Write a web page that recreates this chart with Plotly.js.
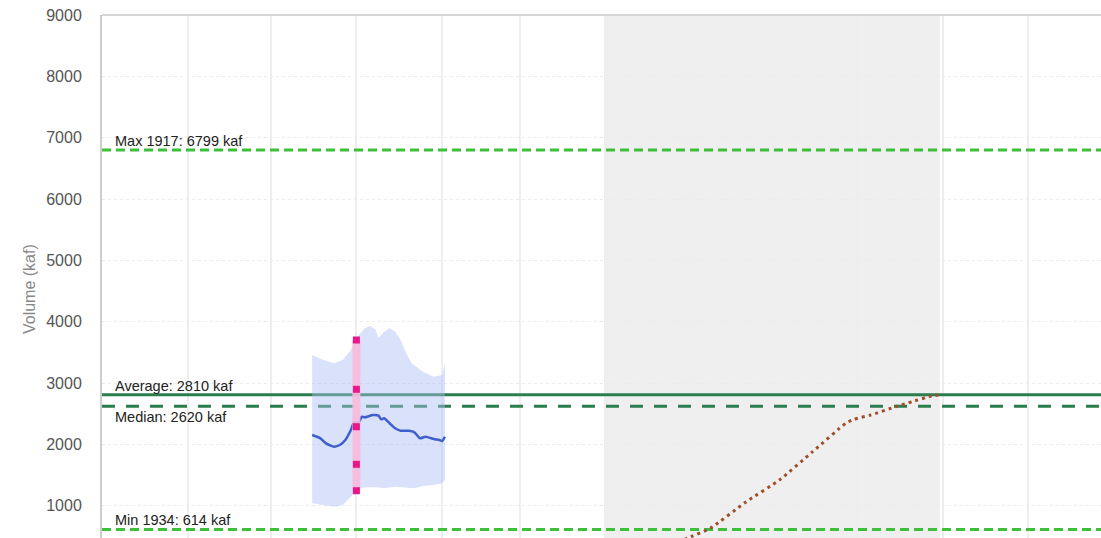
<!DOCTYPE html>
<html>
<head>
<meta charset="utf-8">
<script src="https://cdn.plot.ly/plotly-3.0.1.min.js"></script>
<style>
  html, body { margin: 0; padding: 0; background: #fff; overflow: hidden; }
  #chart { width: 1101px; height: 538px; }
</style>
</head>
<body>
<div id="chart"></div>
<script>
// Water-year window on the date axis
const yearStart = '2022-10-01';
const yearEnd = '2023-09-30';
const viewEnd = '2023-09-27 07:00';
const runoffSeason = ['2023-04-01', '2023-07-31'];

// Historical statistics (kaf)
const maxYear = 1917, maxValue = 6799;
const minYear = 1934, minValue = 614;
const averageValue = 2810;
const medianValue = 2620;

// Forecast spread, upper and lower edges (kaf)
const upperDates = ['2022-12-16','2022-12-20','2022-12-24','2022-12-27','2022-12-30','2023-01-01',
  '2023-01-04','2023-01-06','2023-01-08','2023-01-09','2023-01-11','2023-01-13','2023-01-15',
  '2023-01-17','2023-01-19','2023-01-21','2023-01-25','2023-01-29','2023-02-01','2023-02-02'];
const upperValues = [3457,3376,3322,3376,3539,3730,3893,3930,3865,3730,3837,3893,3837,
  3702,3485,3322,3185,3104,3131,3322];
const lowerDates = ['2022-12-16','2022-12-20','2022-12-24','2022-12-27','2022-12-30','2023-01-01',
  '2023-01-04','2023-01-08','2023-01-11','2023-01-15','2023-01-18','2023-01-22','2023-01-25',
  '2023-01-29','2023-02-01','2023-02-02'];
const lowerValues = [1039,1012,984,1012,1147,1256,1300,1300,1284,1311,1300,1284,1322,1338,1366,1420];

// Daily forecast volume (kaf)
const forecastDates = ['2022-12-16','2022-12-19','2022-12-21','2022-12-24','2022-12-26','2022-12-28',
  '2022-12-30','2022-12-31','2023-01-02','2023-01-03','2023-01-04','2023-01-07','2023-01-09',
  '2023-01-10','2023-01-11','2023-01-13','2023-01-15','2023-01-17','2023-01-20','2023-01-22',
  '2023-01-24','2023-01-26','2023-01-29','2023-01-31','2023-02-01','2023-02-02'];
const forecastValues = [2153,2099,2017,1963,1990,2071,2234,2344,2370,2452,2441,2479,2468,
  2408,2425,2344,2262,2223,2223,2197,2099,2125,2088,2071,2055,2125];

// January 1 forecast percentiles (kaf)
const janDate = '2023-01-01';
const janPercentiles = [1245, 1675, 2288, 2898, 3702];

// Cumulative April-July volume (kaf)
const cumulativeDates = ['2023-04-01','2023-04-16','2023-05-02','2023-05-09','2023-05-22',
  '2023-06-03','2023-06-15','2023-06-27','2023-06-30','2023-07-06','2023-07-15','2023-07-21',
  '2023-07-28','2023-07-31'];
const cumulativeValues = [0,200,495,632,1066,1420,1881,2344,2410,2479,2614,2696,2790,2810];

const darkGreen = '#2b7d4e';
const brightGreen = '#3cc03c';

function flatLine(value, color, dash) {
  return {
    type: 'scatter', mode: 'lines', hoverinfo: 'skip',
    x: [yearStart, yearEnd], y: [value, value],
    line: { color: color, width: 3, dash: dash }
  };
}

const traces = [
  flatLine(maxValue, brightGreen, '9px,5px'),
  flatLine(minValue, brightGreen, '9px,5px'),
  flatLine(averageValue, darkGreen, 'solid'),
  flatLine(medianValue, darkGreen, '13px,11px'),
  {
    type: 'scatter', mode: 'lines', hoverinfo: 'skip',
    x: upperDates.concat(lowerDates.slice().reverse()),
    y: upperValues.concat(lowerValues.slice().reverse()),
    fill: 'toself', fillcolor: 'rgba(170,190,245,0.45)',
    line: { width: 0 }
  },
  {
    type: 'scatter', mode: 'lines', hoverinfo: 'skip',
    x: forecastDates, y: forecastValues,
    line: { color: '#3f5fcc', width: 2.5, shape: 'spline', smoothing: 0.6 }
  },
  {
    type: 'scatter', mode: 'lines+markers', hoverinfo: 'skip',
    x: janPercentiles.map(() => janDate), y: janPercentiles,
    line: { color: 'rgba(248,186,218,0.9)', width: 8 },
    marker: { symbol: 'square', size: 7, color: '#e8188b' }
  },
  {
    type: 'scatter', mode: 'lines', hoverinfo: 'skip',
    x: cumulativeDates, y: cumulativeValues,
    line: { color: '#9e4f2c', width: 3, dash: '3px,4px', shape: 'spline', smoothing: 0.5 }
  }
];

function statLabel(text, value, shift) {
  return {
    xref: 'paper', x: 0, xanchor: 'left', xshift: 11,
    yref: 'y', y: value, yanchor: 'middle', yshift: shift,
    text: text, showarrow: false,
    font: { family: 'Liberation Sans, Arial, sans-serif', size: 14.5, color: '#222' }
  };
}

const layout = {
  width: 1101, height: 538,
  margin: { l: 102, r: 0, t: 15, b: 0 },
  paper_bgcolor: '#fff', plot_bgcolor: '#fff',
  showlegend: false, hovermode: false,
  font: { family: 'Liberation Sans, Arial, sans-serif' },
  xaxis: {
    type: 'date', range: [yearStart, viewEnd],
    tick0: yearStart, dtick: 'M1',
    showticklabels: false, ticks: '',
    showgrid: true, gridcolor: '#eeeeee', gridwidth: 2,
    zeroline: false, showline: false
  },
  yaxis: {
    range: [474, 9000], tick0: 0, dtick: 1000,
    ticks: 'outside', ticklen: 15, tickcolor: 'rgba(0,0,0,0)',
    tickfont: { size: 16, color: '#555' },
    showgrid: true, gridcolor: '#ebebeb', gridwidth: 1, griddash: 'dot',
    zeroline: false,
    showline: true, linecolor: '#cdcdcd', linewidth: 2
  },
  shapes: [
    {
      type: 'rect', layer: 'below',
      xref: 'x', x0: runoffSeason[0], x1: runoffSeason[1],
      yref: 'paper', y0: 0, y1: 1,
      fillcolor: '#efefef', line: { width: 0 }
    },
    {
      type: 'line', layer: 'above',
      xref: 'paper', x0: 0, x1: 1, yref: 'paper', y0: 1, y1: 1,
      line: { color: '#d6d6d6', width: 2 }
    }
  ],
  annotations: [
    statLabel('Max ' + maxYear + ': ' + maxValue + ' kaf', maxValue, 9),
    statLabel('Average: ' + averageValue + ' kaf', averageValue, 9),
    statLabel('Median: ' + medianValue + ' kaf', medianValue, -11),
    statLabel('Min ' + minYear + ': ' + minValue + ' kaf', minValue, 9),
    {
      xref: 'paper', x: 0, xanchor: 'center', xshift: -73,
      yref: 'paper', y: 0.476, yanchor: 'middle',
      text: 'Volume (kaf)', textangle: -90, showarrow: false,
      font: { size: 16, color: '#888' }
    }
  ]
};

Plotly.newPlot('chart', traces, layout, { displayModeBar: false, staticPlot: true });
</script>
</body>
</html>
